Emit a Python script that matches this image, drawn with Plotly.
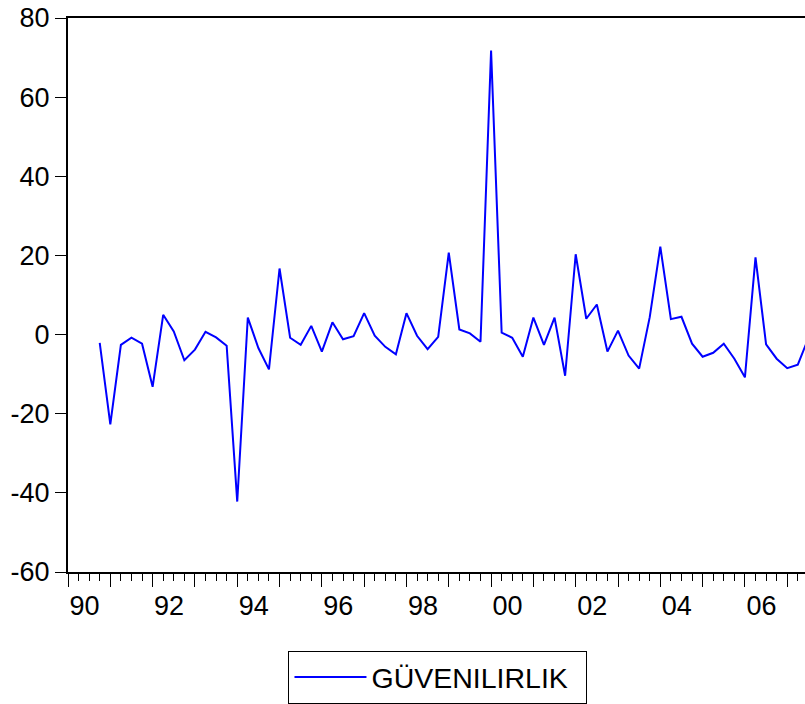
import plotly.graph_objects as go

# Quarterly periods and values
periods = ["1990Q4"] + [f"{y}Q{q}" for y in range(1991, 2008) for q in range(1, 5)]
periods = periods[:68]
values = [
    -2.1, -22.7, -2.6, -0.8, -2.3, -13.2, 5.0, 0.8, -6.5, -3.8,
    0.7, -0.7, -2.8, -42.2, 4.3, -3.4, -8.8, 16.7, -0.8, -2.6,
    2.2, -4.3, 3.1, -1.2, -0.4, 5.4, -0.3, -3.1, -5.0, 5.4,
    -0.3, -3.7, -0.6, 20.7, 1.3, 0.3, -1.8, 71.8, 0.5, -0.8,
    -5.6, 4.3, -2.6, 4.3, -10.4, 20.3, 4.0, 7.6, -4.3, 1.0,
    -5.3, -8.6, 4.4, 22.2, 3.9, 4.5, -2.3, -5.6, -4.6, -2.3,
    -6.1, -10.8, 19.5, -2.5, -6.1, -8.5, -7.6, -0.9,
]
series_name = "GÜVENILIRLIK"
label_years = [1990, 1992, 1994, 1996, 1998, 2000, 2002, 2004, 2006]
label_text = ["90", "92", "94", "96", "98", "00", "02", "04", "06"]
y_ticks = [-60, -40, -20, 0, 20, 40, 60, 80]

x_pos = [int(p[:4]) + (int(p[-1]) - 1) / 4 for p in periods]
x_range = [1990, 2007.42]
FONT = "Liberation Sans, Arial, sans-serif"

fig = go.Figure()
fig.add_trace(go.Scatter(
    x=x_pos, y=values, mode="lines", name=series_name,
    line=dict(color="#0000FF", width=2),
))
fig.add_trace(go.Scatter(x=[x_range[0]], y=[None], xaxis="x2", showlegend=False,
                         hoverinfo="skip", mode="lines"))

fig.update_layout(
    width=805, height=704,
    margin=dict(l=68, r=0, t=18, b=130),
    paper_bgcolor="white", plot_bgcolor="white",
    font=dict(family=FONT, size=27, color="black"),
    showlegend=True,
    legend=dict(
        x=0.502, y=-0.143, xanchor="center", yanchor="top",
        orientation="h", entrywidth=210, entrywidthmode="pixels",
        bordercolor="black", borderwidth=1, bgcolor="white",
        font=dict(family=FONT, size=28.5, color="black"),
        itemwidth=72,
    ),
    # main x axis: year labels only
    xaxis=dict(
        range=x_range, showgrid=False, zeroline=False, automargin=False,
        showline=False,
        tickmode="array",
        tickvals=[y + 0.39 for y in label_years], ticktext=label_text,
        ticks="outside", ticklen=10, tickcolor="rgba(0,0,0,0)",
        tickfont=dict(family=FONT, size=27, color="black"),
    ),
    # overlay x axis: frame line and year / quarter tick marks
    xaxis2=dict(
        range=x_range, overlaying="x", anchor="y", side="bottom",
        showgrid=False, zeroline=False, automargin=False,
        showline=True, linecolor="black", linewidth=2, mirror=True,
        tickmode="linear", tick0=1990, dtick=1,
        ticks="outside", ticklen=13, tickwidth=1.2, tickcolor="black",
        showticklabels=False,
        minor=dict(ticks="outside", ticklen=7, tickwidth=1.2, tickcolor="black",
                   tick0=1990, dtick=0.25, showgrid=False),
    ),
    yaxis=dict(
        range=[-60, 80], showgrid=False, zeroline=False, automargin=False,
        showline=True, linecolor="black", linewidth=2,
        tickmode="array", tickvals=y_ticks, ticktext=[str(v) for v in y_ticks],
        ticks="outside", ticklen=11, tickwidth=1.2, tickcolor="black",
        tickfont=dict(family=FONT, size=27, color="black"),
    ),
)

fig.write_html("out.html", config={"displayModeBar": False},
               post_script="document.body.style.margin='0px';")
